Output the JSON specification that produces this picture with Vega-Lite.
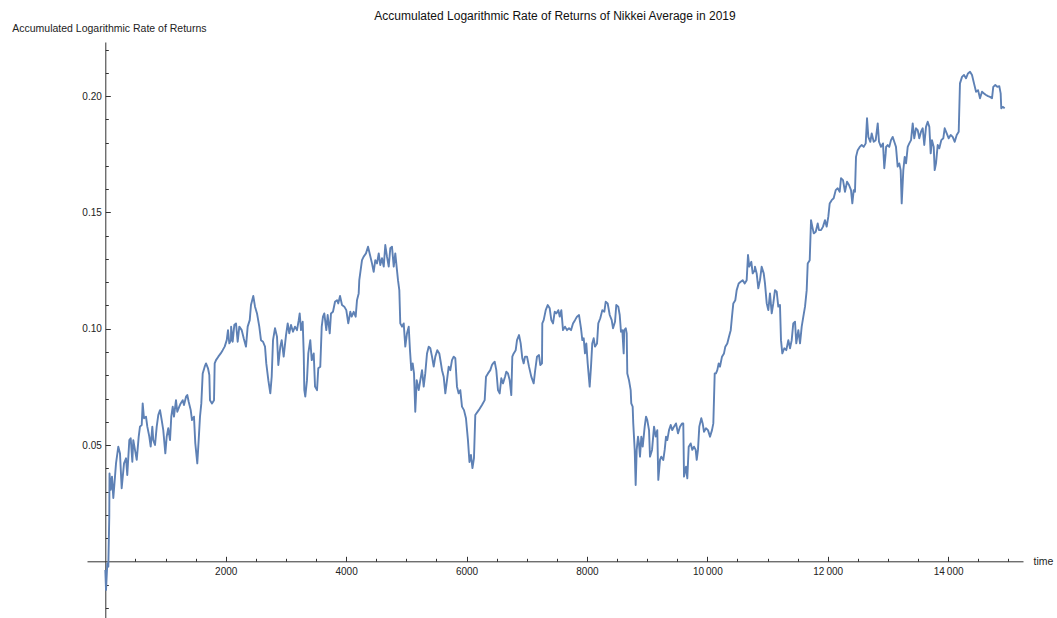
{
  "$schema": "https://vega.github.io/schema/vega-lite/v6.json",
  "autosize": "none",
  "padding": {"left": 87, "top": 42, "right": 34, "bottom": 0},
  "width": 936,
  "height": 576,
  "background": "white",
  "config": {
    "view": {"stroke": null},
    "font": "Liberation Sans",
    "axis": {"grid": false, "domainColor": "#333333", "tickColor": "#333333", "labelColor": "#222222", "titleColor": "#222222", "labelFont": "Liberation Sans", "titleFont": "Liberation Sans", "titleFontWeight": "normal", "labelFontSize": 10, "titleFontSize": 10.5, "domainWidth": 1, "tickWidth": 1}
  },
  "title": {
    "text": "Accumulated Logarithmic Rate of Returns of Nikkei Average in 2019",
    "anchor": "middle",
    "frame": "group",
    "font": "Liberation Sans",
    "fontSize": 12,
    "fontWeight": "normal",
    "color": "#111111",
    "baseline": "alphabetic",
    "offset": 3,
    "dy": 11
  },
  "data": {
    "values": [
      {"t":0,"v":-0.0037},{"t":12,"v":-0.0123},{"t":33,"v":-0.0009},{"t":50,"v":-0.0023},{"t":66,"v":0.0192},{"t":70,"v":0.0378},{"t":90,"v":0.0307},{"t":111,"v":0.0364},{"t":133,"v":0.0272},{"t":161,"v":0.0364},
      {"t":178,"v":0.0421},{"t":216,"v":0.0493},{"t":244,"v":0.0464},{"t":272,"v":0.0314},{"t":311,"v":0.0421},{"t":344,"v":0.0443},{"t":365,"v":0.0371},{"t":399,"v":0.0521},{"t":422,"v":0.0529},{"t":449,"v":0.0428},
      {"t":465,"v":0.0521},{"t":493,"v":0.0479},{"t":522,"v":0.0436},{"t":555,"v":0.0536},{"t":576,"v":0.0579},{"t":605,"v":0.0586},{"t":621,"v":0.0679},{"t":643,"v":0.0615},{"t":676,"v":0.0622},{"t":698,"v":0.0579},
      {"t":731,"v":0.0536},{"t":754,"v":0.0493},{"t":781,"v":0.0579},{"t":797,"v":0.0521},{"t":826,"v":0.05},{"t":854,"v":0.0579},{"t":880,"v":0.0629},{"t":909,"v":0.065},{"t":937,"v":0.0607},{"t":963,"v":0.0564},
      {"t":997,"v":0.0464},{"t":1020,"v":0.0536},{"t":1046,"v":0.0572},{"t":1075,"v":0.0521},{"t":1096,"v":0.0622},{"t":1120,"v":0.0665},{"t":1141,"v":0.0622},{"t":1174,"v":0.0693},{"t":1196,"v":0.0643},{"t":1229,"v":0.0665},
      {"t":1252,"v":0.0679},{"t":1286,"v":0.0693},{"t":1307,"v":0.0672},{"t":1341,"v":0.0708},{"t":1362,"v":0.0715},{"t":1385,"v":0.0686},{"t":1419,"v":0.065},{"t":1440,"v":0.0607},{"t":1473,"v":0.0622},{"t":1495,"v":0.0507},
      {"t":1528,"v":0.0421},{"t":1551,"v":0.0521},{"t":1573,"v":0.0622},{"t":1595,"v":0.0679},{"t":1618,"v":0.0808},{"t":1651,"v":0.0837},{"t":1673,"v":0.0851},{"t":1706,"v":0.083},{"t":1728,"v":0.0801},{"t":1739,"v":0.0693},
      {"t":1772,"v":0.0679},{"t":1806,"v":0.0693},{"t":1817,"v":0.0851},{"t":1839,"v":0.0865},{"t":1877,"v":0.088},{"t":1917,"v":0.0894},{"t":1950,"v":0.0908},{"t":1983,"v":0.0923},{"t":2017,"v":0.0951},{"t":2038,"v":0.0994},
      {"t":2060,"v":0.0937},{"t":2088,"v":0.0951},{"t":2090,"v":0.1009},{"t":2116,"v":0.0944},{"t":2143,"v":0.1016},{"t":2171,"v":0.1023},{"t":2199,"v":0.0944},{"t":2226,"v":0.1009},{"t":2266,"v":0.0994},{"t":2299,"v":0.0959},
      {"t":2337,"v":0.0923},{"t":2365,"v":0.1009},{"t":2399,"v":0.1037},{"t":2420,"v":0.1102},{"t":2458,"v":0.1141},{"t":2487,"v":0.1095},{"t":2520,"v":0.1066},{"t":2558,"v":0.1009},{"t":2586,"v":0.0951},{"t":2620,"v":0.0944},
      {"t":2653,"v":0.0923},{"t":2674,"v":0.0851},{"t":2708,"v":0.0779},{"t":2741,"v":0.0722},{"t":2764,"v":0.0794},{"t":2786,"v":0.0951},{"t":2819,"v":0.1002},{"t":2852,"v":0.0966},{"t":2874,"v":0.0844},{"t":2907,"v":0.0923},
      {"t":2930,"v":0.0951},{"t":2963,"v":0.088},{"t":3002,"v":0.0973},{"t":3030,"v":0.1023},{"t":3056,"v":0.098},{"t":3085,"v":0.1016},{"t":3118,"v":0.0987},{"t":3151,"v":0.1009},{"t":3184,"v":0.0994},{"t":3213,"v":0.1037},
      {"t":3229,"v":0.1066},{"t":3251,"v":0.0994},{"t":3279,"v":0.103},{"t":3296,"v":0.0894},{"t":3306,"v":0.0736},{"t":3322,"v":0.0708},{"t":3350,"v":0.0779},{"t":3372,"v":0.0894},{"t":3405,"v":0.0951},{"t":3429,"v":0.0865},
      {"t":3462,"v":0.0894},{"t":3484,"v":0.0751},{"t":3517,"v":0.0736},{"t":3538,"v":0.083},{"t":3571,"v":0.0837},{"t":3595,"v":0.1009},{"t":3616,"v":0.1052},{"t":3638,"v":0.1066},{"t":3671,"v":0.0994},{"t":3694,"v":0.1059},
      {"t":3728,"v":0.098},{"t":3749,"v":0.1066},{"t":3782,"v":0.1073},{"t":3816,"v":0.1116},{"t":3849,"v":0.1123},{"t":3870,"v":0.1109},{"t":3899,"v":0.1141},{"t":3932,"v":0.1102},{"t":3970,"v":0.1095},{"t":4003,"v":0.108},
      {"t":4036,"v":0.1023},{"t":4070,"v":0.1073},{"t":4093,"v":0.1052},{"t":4126,"v":0.1073},{"t":4159,"v":0.1052},{"t":4181,"v":0.1123},{"t":4209,"v":0.1152},{"t":4219,"v":0.1209},{"t":4264,"v":0.1295},{"t":4292,"v":0.131},
      {"t":4330,"v":0.1324},{"t":4364,"v":0.1353},{"t":4397,"v":0.1317},{"t":4430,"v":0.1281},{"t":4458,"v":0.1245},{"t":4485,"v":0.1295},{"t":4513,"v":0.1281},{"t":4542,"v":0.1324},{"t":4568,"v":0.1274},{"t":4596,"v":0.1303},
      {"t":4625,"v":0.1267},{"t":4651,"v":0.136},{"t":4679,"v":0.131},{"t":4708,"v":0.1267},{"t":4734,"v":0.1346},{"t":4762,"v":0.1353},{"t":4791,"v":0.1267},{"t":4817,"v":0.1324},{"t":4845,"v":0.1252},{"t":4862,"v":0.1209},
      {"t":4884,"v":0.1166},{"t":4900,"v":0.1023},{"t":4929,"v":0.1009},{"t":4957,"v":0.1023},{"t":4983,"v":0.0923},{"t":5011,"v":0.098},{"t":5040,"v":0.1009},{"t":5061,"v":0.0908},{"t":5083,"v":0.0822},{"t":5106,"v":0.0851},
      {"t":5128,"v":0.0808},{"t":5149,"v":0.0643},{"t":5173,"v":0.0779},{"t":5206,"v":0.0736},{"t":5233,"v":0.0779},{"t":5261,"v":0.0822},{"t":5289,"v":0.0751},{"t":5315,"v":0.0808},{"t":5344,"v":0.0894},{"t":5372,"v":0.0923},
      {"t":5399,"v":0.0916},{"t":5427,"v":0.088},{"t":5455,"v":0.0837},{"t":5482,"v":0.088},{"t":5515,"v":0.0908},{"t":5548,"v":0.0894},{"t":5571,"v":0.0858},{"t":5593,"v":0.0822},{"t":5621,"v":0.0794},{"t":5648,"v":0.0722},
      {"t":5676,"v":0.0779},{"t":5704,"v":0.0837},{"t":5731,"v":0.0822},{"t":5759,"v":0.0865},{"t":5787,"v":0.088},{"t":5814,"v":0.0873},{"t":5842,"v":0.0751},{"t":5870,"v":0.0722},{"t":5897,"v":0.0736},{"t":5925,"v":0.0665},
      {"t":5958,"v":0.065},{"t":5991,"v":0.0615},{"t":6024,"v":0.0521},{"t":6049,"v":0.0427},{"t":6074,"v":0.0457},{"t":6099,"v":0.0401},{"t":6124,"v":0.0444},{"t":6146,"v":0.0629},{"t":6203,"v":0.065},{"t":6257,"v":0.0672},
      {"t":6302,"v":0.0693},{"t":6324,"v":0.0794},{"t":6357,"v":0.0808},{"t":6395,"v":0.0822},{"t":6423,"v":0.0844},{"t":6440,"v":0.0851},{"t":6468,"v":0.0858},{"t":6495,"v":0.0822},{"t":6523,"v":0.0736},{"t":6551,"v":0.0722},
      {"t":6578,"v":0.0787},{"t":6606,"v":0.0765},{"t":6640,"v":0.0794},{"t":6661,"v":0.0815},{"t":6689,"v":0.0808},{"t":6717,"v":0.0779},{"t":6744,"v":0.0715},{"t":6761,"v":0.088},{"t":6784,"v":0.0894},{"t":6817,"v":0.0908},
      {"t":6839,"v":0.0951},{"t":6872,"v":0.0973},{"t":6900,"v":0.0937},{"t":6927,"v":0.0873},{"t":6950,"v":0.0851},{"t":6972,"v":0.088},{"t":7005,"v":0.088},{"t":7038,"v":0.0837},{"t":7076,"v":0.0794},{"t":7116,"v":0.0765},
      {"t":7138,"v":0.0815},{"t":7171,"v":0.088},{"t":7204,"v":0.0887},{"t":7226,"v":0.0844},{"t":7254,"v":0.0851},{"t":7259,"v":0.1023},{"t":7282,"v":0.1037},{"t":7316,"v":0.108},{"t":7349,"v":0.1102},{"t":7382,"v":0.1088},
      {"t":7409,"v":0.1037},{"t":7437,"v":0.1023},{"t":7465,"v":0.1073},{"t":7492,"v":0.1066},{"t":7525,"v":0.108},{"t":7548,"v":0.1052},{"t":7575,"v":0.108},{"t":7603,"v":0.0994},{"t":7636,"v":0.1009},{"t":7669,"v":0.0994},
      {"t":7703,"v":0.1002},{"t":7736,"v":0.0994},{"t":7769,"v":0.1023},{"t":7802,"v":0.1037},{"t":7835,"v":0.1052},{"t":7869,"v":0.1059},{"t":7902,"v":0.1002},{"t":7924,"v":0.0951},{"t":7947,"v":0.0959},{"t":7968,"v":0.0894},
      {"t":7990,"v":0.0937},{"t":8013,"v":0.0851},{"t":8046,"v":0.0751},{"t":8068,"v":0.0837},{"t":8089,"v":0.0937},{"t":8113,"v":0.0959},{"t":8134,"v":0.0923},{"t":8168,"v":0.0937},{"t":8189,"v":0.1023},{"t":8222,"v":0.1045},
      {"t":8256,"v":0.108},{"t":8289,"v":0.1073},{"t":8312,"v":0.1116},{"t":8345,"v":0.1109},{"t":8379,"v":0.1059},{"t":8412,"v":0.1037},{"t":8434,"v":0.1002},{"t":8467,"v":0.103},{"t":8488,"v":0.1102},{"t":8521,"v":0.1095},
      {"t":8545,"v":0.1059},{"t":8566,"v":0.0987},{"t":8588,"v":0.0994},{"t":8611,"v":0.0894},{"t":8620,"v":0.0994},{"t":8645,"v":0.1002},{"t":8661,"v":0.098},{"t":8671,"v":0.0808},{"t":8699,"v":0.0779},{"t":8727,"v":0.0736},
      {"t":8737,"v":0.0679},{"t":8760,"v":0.0665},{"t":8770,"v":0.0593},{"t":8794,"v":0.0479},{"t":8810,"v":0.0328},{"t":8827,"v":0.0479},{"t":8849,"v":0.0536},{"t":8865,"v":0.0507},{"t":8882,"v":0.045},{"t":8904,"v":0.0536},
      {"t":8927,"v":0.0493},{"t":8960,"v":0.0579},{"t":8982,"v":0.0622},{"t":9003,"v":0.0607},{"t":9032,"v":0.0564},{"t":9048,"v":0.045},{"t":9082,"v":0.0479},{"t":9115,"v":0.0579},{"t":9143,"v":0.0536},{"t":9169,"v":0.0564},
      {"t":9186,"v":0.035},{"t":9214,"v":0.0436},{"t":9236,"v":0.045},{"t":9269,"v":0.0436},{"t":9292,"v":0.0479},{"t":9314,"v":0.0536},{"t":9335,"v":0.0521},{"t":9364,"v":0.0564},{"t":9392,"v":0.0586},{"t":9418,"v":0.0564},
      {"t":9447,"v":0.0579},{"t":9480,"v":0.0593},{"t":9513,"v":0.055},{"t":9546,"v":0.0579},{"t":9580,"v":0.0593},{"t":9601,"v":0.0593},{"t":9613,"v":0.0364},{"t":9646,"v":0.0407},{"t":9668,"v":0.0357},{"t":9691,"v":0.0493},
      {"t":9724,"v":0.0507},{"t":9751,"v":0.0479},{"t":9779,"v":0.0493},{"t":9807,"v":0.0479},{"t":9824,"v":0.0436},{"t":9845,"v":0.0479},{"t":9867,"v":0.0579},{"t":9900,"v":0.0615},{"t":9923,"v":0.0593},{"t":9945,"v":0.0557},
      {"t":9978,"v":0.0572},{"t":10011,"v":0.0564},{"t":10045,"v":0.0536},{"t":10078,"v":0.0564},{"t":10100,"v":0.0593},{"t":10123,"v":0.0808},{"t":10144,"v":0.0808},{"t":10166,"v":0.0822},{"t":10189,"v":0.0851},{"t":10211,"v":0.0837},
      {"t":10244,"v":0.088},{"t":10277,"v":0.0894},{"t":10299,"v":0.0923},{"t":10332,"v":0.0937},{"t":10360,"v":0.0966},{"t":10389,"v":0.0994},{"t":10410,"v":0.1052},{"t":10432,"v":0.1109},{"t":10465,"v":0.1123},{"t":10488,"v":0.1166},
      {"t":10521,"v":0.1195},{"t":10554,"v":0.1202},{"t":10588,"v":0.1209},{"t":10621,"v":0.1195},{"t":10654,"v":0.1209},{"t":10676,"v":0.1317},{"t":10697,"v":0.1267},{"t":10731,"v":0.1288},{"t":10754,"v":0.1238},{"t":10787,"v":0.1252},
      {"t":10792,"v":0.1267},{"t":10820,"v":0.1238},{"t":10847,"v":0.1174},{"t":10875,"v":0.1209},{"t":10903,"v":0.1267},{"t":10937,"v":0.1238},{"t":10958,"v":0.1195},{"t":10987,"v":0.1109},{"t":11013,"v":0.108},{"t":11041,"v":0.1152},
      {"t":11070,"v":0.1066},{"t":11096,"v":0.1109},{"t":11124,"v":0.1166},{"t":11153,"v":0.1159},{"t":11179,"v":0.1095},{"t":11207,"v":0.1102},{"t":11224,"v":0.0951},{"t":11246,"v":0.0894},{"t":11279,"v":0.0916},{"t":11312,"v":0.0908},
      {"t":11346,"v":0.0951},{"t":11374,"v":0.0916},{"t":11402,"v":0.0951},{"t":11428,"v":0.1023},{"t":11457,"v":0.103},{"t":11478,"v":0.0937},{"t":11512,"v":0.0994},{"t":11540,"v":0.0937},{"t":11568,"v":0.1009},{"t":11595,"v":0.1052},
      {"t":11623,"v":0.1095},{"t":11651,"v":0.1166},{"t":11668,"v":0.1281},{"t":11701,"v":0.1295},{"t":11723,"v":0.1467},{"t":11744,"v":0.1439},{"t":11768,"v":0.141},{"t":11801,"v":0.1417},{"t":11834,"v":0.1453},{"t":11855,"v":0.1424},
      {"t":11889,"v":0.1424},{"t":11922,"v":0.1439},{"t":11955,"v":0.1467},{"t":11983,"v":0.1439},{"t":12010,"v":0.1482},{"t":12033,"v":0.1539},{"t":12066,"v":0.1553},{"t":12099,"v":0.1561},{"t":12133,"v":0.1596},{"t":12166,"v":0.1604},
      {"t":12199,"v":0.1589},{"t":12221,"v":0.1647},{"t":12254,"v":0.1639},{"t":12287,"v":0.1589},{"t":12321,"v":0.1632},{"t":12354,"v":0.1618},{"t":12387,"v":0.1596},{"t":12409,"v":0.1539},{"t":12432,"v":0.1596},{"t":12453,"v":0.1589},
      {"t":12470,"v":0.1739},{"t":12498,"v":0.1768},{"t":12532,"v":0.1782},{"t":12565,"v":0.179},{"t":12598,"v":0.1782},{"t":12631,"v":0.1797},{"t":12653,"v":0.1905},{"t":12675,"v":0.1825},{"t":12708,"v":0.1804},{"t":12731,"v":0.184},
      {"t":12764,"v":0.1804},{"t":12797,"v":0.1811},{"t":12831,"v":0.1883},{"t":12852,"v":0.1804},{"t":12885,"v":0.1782},{"t":12918,"v":0.1797},{"t":12940,"v":0.169},{"t":12963,"v":0.1754},{"t":12970,"v":0.1782},{"t":12996,"v":0.179},
      {"t":13023,"v":0.1782},{"t":13051,"v":0.1811},{"t":13079,"v":0.1825},{"t":13106,"v":0.1804},{"t":13134,"v":0.1782},{"t":13162,"v":0.1697},{"t":13189,"v":0.1711},{"t":13212,"v":0.1682},{"t":13229,"v":0.1539},{"t":13256,"v":0.1682},
      {"t":13279,"v":0.1739},{"t":13301,"v":0.1711},{"t":13329,"v":0.1782},{"t":13355,"v":0.1797},{"t":13384,"v":0.1811},{"t":13412,"v":0.1883},{"t":13438,"v":0.1819},{"t":13467,"v":0.1862},{"t":13495,"v":0.1854},{"t":13521,"v":0.1819},
      {"t":13550,"v":0.1847},{"t":13578,"v":0.1862},{"t":13604,"v":0.179},{"t":13633,"v":0.1868},{"t":13661,"v":0.189},{"t":13688,"v":0.1868},{"t":13711,"v":0.1754},{"t":13732,"v":0.1811},{"t":13761,"v":0.1782},{"t":13777,"v":0.1682},
      {"t":13799,"v":0.1711},{"t":13827,"v":0.179},{"t":13854,"v":0.1776},{"t":13887,"v":0.1811},{"t":13920,"v":0.1819},{"t":13943,"v":0.1862},{"t":13977,"v":0.184},{"t":14010,"v":0.1819},{"t":14043,"v":0.1833},{"t":14076,"v":0.1825},
      {"t":14110,"v":0.1804},{"t":14143,"v":0.1833},{"t":14176,"v":0.1847},{"t":14197,"v":0.2055},{"t":14231,"v":0.2083},{"t":14264,"v":0.2091},{"t":14297,"v":0.2077},{"t":14330,"v":0.2098},{"t":14364,"v":0.2105},{"t":14397,"v":0.2091},
      {"t":14430,"v":0.2055},{"t":14464,"v":0.2019},{"t":14497,"v":0.2026},{"t":14530,"v":0.1991},{"t":14563,"v":0.2019},{"t":14596,"v":0.2012},{"t":14630,"v":0.2005},{"t":14663,"v":0.2},{"t":14696,"v":0.1997},{"t":14729,"v":0.1991},
      {"t":14750,"v":0.204},{"t":14784,"v":0.2048},{"t":14817,"v":0.204},{"t":14850,"v":0.2043},{"t":14873,"v":0.2012},{"t":14883,"v":0.1948},{"t":14907,"v":0.1954},{"t":14940,"v":0.1948}
    ]
  },
  "mark": {"type": "line", "color": "#5E81B5", "strokeWidth": 1.9, "strokeJoin": "round", "clip": true},
  "encoding": {
    "x": {
      "field": "t",
      "type": "quantitative",
      "scale": {"domain": [-304, 15244], "nice": false, "zero": false},
      "axis": {
        "title": "time",
        "titleAngle": 0,
        "titleAlign": "left",
        "titleBaseline": "middle",
        "titleX": 946,
        "titleY": 0,
        "offset": -56.7,
        "values": [500,1000,1500,2000,2500,3000,3500,4000,4500,5000,5500,6000,6500,7000,7500,8000,8500,9000,9500,10000,10500,11000,11500,12000,12500,13000,13500,14000,14500,15000],
        "labelExpr": "datum.value % 2000 == 0 ? (datum.value >= 10000 ? floor(datum.value/1000) + '\u2009000' : '' + datum.value) : ''",
        "labelOverlap": false,
        "labelFlush": false,
        "tickSize": {"condition": {"test": "datum.value % 2000 == 0", "value": -5}, "value": -3},
        "labelPadding": 10
      }
    },
    "y": {
      "field": "v",
      "type": "quantitative",
      "scale": {"domain": [-0.02438, 0.22330], "nice": false, "zero": false},
      "axis": {
        "title": "Accumulated Logarithmic Rate of Returns",
        "titleAngle": 0,
        "titleAlign": "left",
        "titleBaseline": "alphabetic",
        "titleX": -93.6,
        "titleY": -10.3,
        "offset": -18.3,
        "values": [-0.02,-0.01,0.01,0.02,0.03,0.04,0.05,0.06,0.07,0.08,0.09,0.1,0.11,0.12,0.13,0.14,0.15,0.16,0.17,0.18,0.19,0.2,0.21,0.22],
        "labelExpr": "abs(round(datum.value*100)) % 5 == 0 ? format(datum.value, '.2f') : ''",
        "labelOverlap": false,
        "labelFlush": false,
        "tickSize": {"condition": {"test": "abs(round(datum.value*100)) % 5 == 0", "value": -5}, "value": -3},
        "labelPadding": 9
      }
    }
  }
}
